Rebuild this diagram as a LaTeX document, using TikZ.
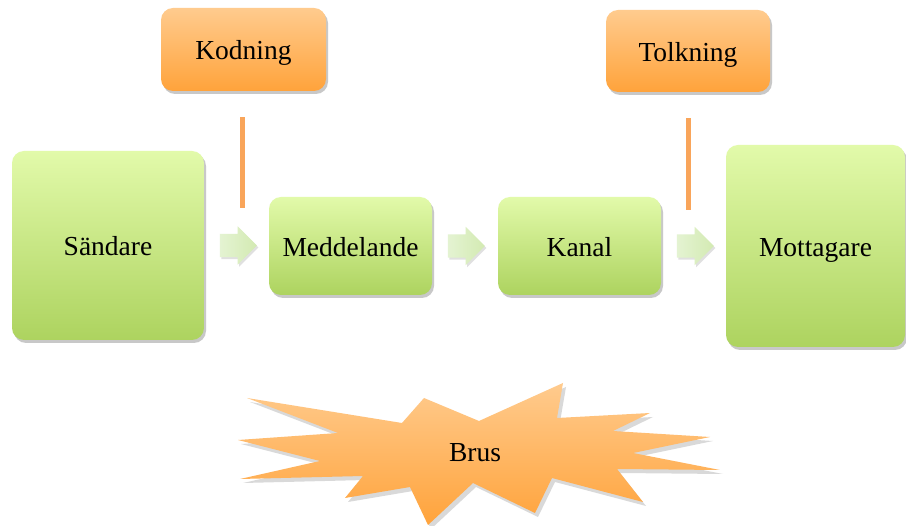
\documentclass[tikz,border=0pt]{standalone}
\usepackage{fontspec}
\setmainfont{Liberation Serif}
\usetikzlibrary{shapes.arrows, shadows, calc}
\definecolor{greentop}{HTML}{E2FAAA}
\definecolor{greenbot}{HTML}{ADD35F}
\definecolor{orangetop}{HTML}{FFCB8E}
\definecolor{orangebot}{HTML}{FFA33B}
\definecolor{arrowleft}{HTML}{E4F3D2}
\definecolor{arrowright}{HTML}{D3EAB2}
\definecolor{stick}{HTML}{F9A55A}
\tikzstyle{box} = [rectangle, rounded corners=12pt, text centered, inner sep=0, font=\fontsize{27.5}{32}\selectfont,
  text height=21pt, text depth=0pt,
  drop shadow={shadow xshift=2pt, shadow yshift=-3pt, opacity=0.3, fill=black!70}]
\tikzstyle{greenbox} = [box, top color=greentop, bottom color=greenbot]
\tikzstyle{orangebox} = [box, top color=orangetop, bottom color=orangebot]
\tikzstyle{blockarrow} = [single arrow, single arrow head extend=7.5pt, single arrow head indent=0pt,
  minimum height=37pt, inner xsep=0, inner ysep=11.5pt, anchor=tail, left color=arrowleft, right color=arrowright,
  drop shadow={shadow xshift=1.5pt, shadow yshift=-2pt, opacity=0.2, fill=black!60}]
\tikzstyle{stickline} = [line width=5pt, stick]

\begin{document}
\begin{tikzpicture}[x=1pt,y=-1pt]
\useasboundingbox[fill=white] (0,0) rectangle (906,526);

% boxes
\node[greenbox, minimum width=192pt, minimum height=189pt] (sandare) at (108,245.5) {Sändare};
\node[greenbox, minimum width=163pt, minimum height=98pt] (medd) at (350.5,246) {Meddelande};
\node[greenbox, minimum width=163pt, minimum height=98pt] (kanal) at (579.5,246) {Kanal};
\node[greenbox, minimum width=179pt, minimum height=202pt] (mott) at (815.5,246) {Mottagare};
\node[orangebox, minimum width=165pt, minimum height=83pt] (kod) at (243.5,49.5) {Kodning};
\node[orangebox, minimum width=164pt, minimum height=82pt] (tolk) at (688,51) {Tolkning};

% arrows between the boxes
\node[blockarrow] (a1) at ([xshift=15.5pt]sandare.east) {};
\node[blockarrow] (a2) at ([xshift=15.5pt]medd.east) {};
\node[blockarrow] (a3) at ([xshift=15.5pt]kanal.east) {};

\draw[stickline] ($(kod.south)+(-1.5,26)$) -- ($(kod.south)+(-1.5,117)$);
\draw[stickline] ($(tolk.south)+(0,26)$) -- ($(tolk.south)+(0,118)$);

% noise
\begin{scope}[shift={(3,4)}]
\fill[black, opacity=0.15] (247,398) -- (402,423) -- (424,398) -- (479,421) -- (563,383) -- (557,418)
  -- (650,413) -- (613,431) -- (710,437) -- (633,453) -- (720,470) -- (617,469) -- (643,502)
  -- (552,478) -- (535,513) -- (473,483) -- (428,525) -- (410,487) -- (345,498) -- (363,476)
  -- (240,479) -- (320,461) -- (238,440) -- (338,433) -- cycle;
\end{scope}
\shade[top color=orangetop, bottom color=orangebot] (247,398) -- (402,423) -- (424,398) -- (479,421) -- (563,383) -- (557,418)
  -- (650,413) -- (613,431) -- (710,437) -- (633,453) -- (720,470) -- (617,469) -- (643,502)
  -- (552,478) -- (535,513) -- (473,483) -- (428,525) -- (410,487) -- (345,498) -- (363,476)
  -- (240,479) -- (320,461) -- (238,440) -- (338,433) -- cycle;
\node[font=\fontsize{27.5}{32}\selectfont, text height=21pt, text depth=0pt, inner sep=0] (brus) at (475,451) {Brus};
\end{tikzpicture}
\end{document}
